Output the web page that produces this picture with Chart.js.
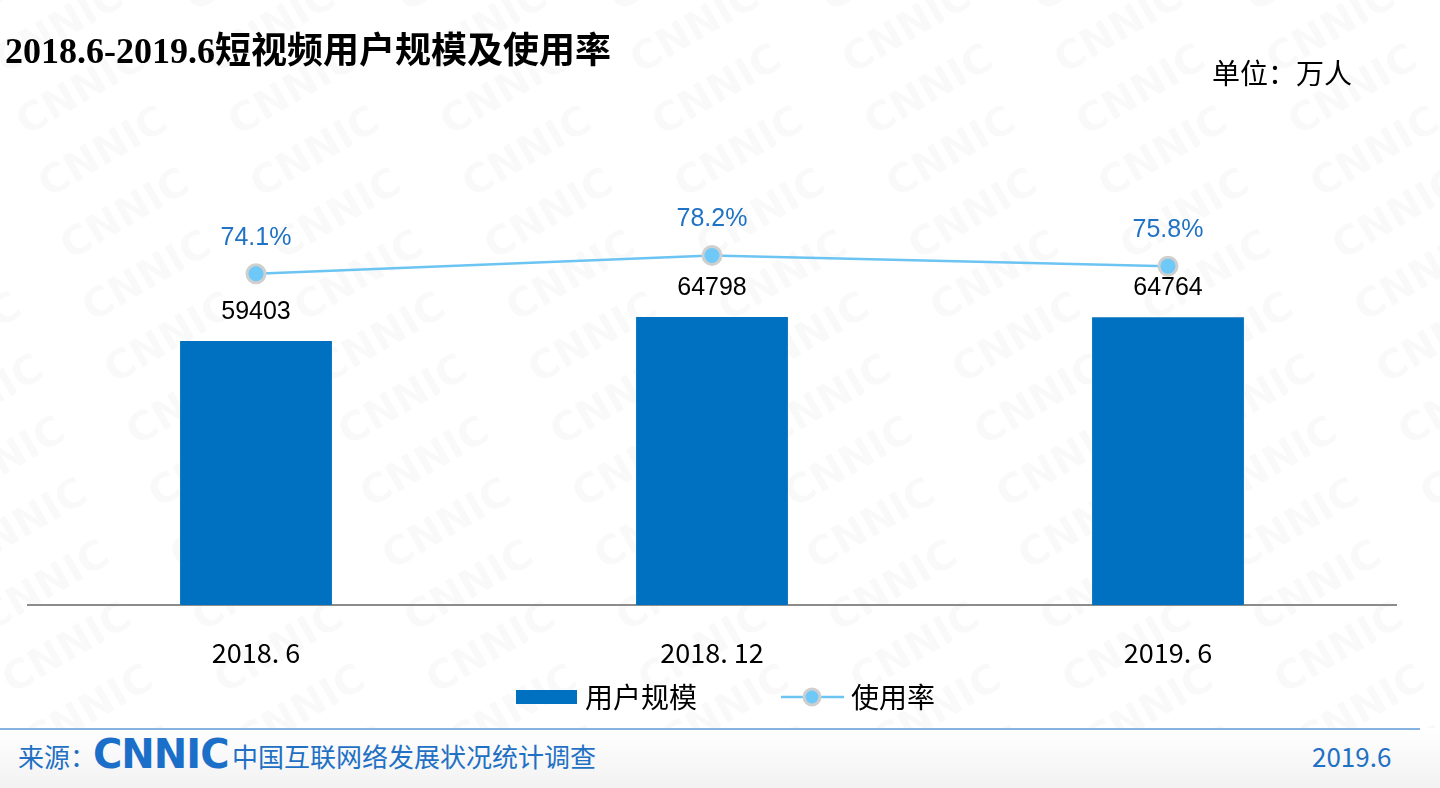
<!DOCTYPE html>
<html>
<head>
<meta charset="utf-8">
<script src="https://cdn.jsdelivr.net/npm/chart.js@4.4.1/dist/chart.umd.min.js"></script>
<style>
  html, body { margin: 0; padding: 0; }
  body { width: 1440px; height: 788px; position: relative; overflow: hidden; background: #fff;
         font-family: "Noto Sans CJK SC", "Liberation Sans", sans-serif; }
  #marks { position: absolute; left: 0; top: 0; }
  #title { position: absolute; left: 5px; top: 21px; font-family: "Liberation Serif", "Noto Sans CJK SC", serif;
           font-weight: bold; font-size: 36px; color: #000; }
  #unit { position: absolute; left: 1212px; top: 52px; font-size: 28px; color: #000; }
  #chartBox { position: absolute; left: 0; top: 0; width: 1440px; height: 728px; }
  #foot { position: absolute; left: 0; top: 728px; width: 1440px; height: 60px;
          background: linear-gradient(#ffffff, #f2f2f2); }
  #footLine { position: absolute; left: 0; top: 728px; width: 1420px; height: 2px; background: #86b2e2; }
  .ft { position: absolute; color: #2170c4; font-size: 26px; top: 737px; }
  #logo { position: absolute; left: 93px; top: 731px; font-family: "DejaVu Sans", sans-serif; font-weight: bold;
          font-size: 40px; color: #1b6fc8; letter-spacing: -1px; }
</style>
</head>
<body>
<canvas id="marks" width="1440" height="788"></canvas>
<div id="foot"></div>
<div id="footLine"></div>
<div id="title">2018.6-2019.6短视频用户规模及使用率</div>
<div id="unit">单位：万人</div>
<div class="ft" style="left:18px">来源：</div>
<div id="logo">CNNIC</div>
<div class="ft" style="left:232px">中国互联网络发展状况统计调查</div>
<div class="ft" style="left:1312px">2019.6</div>
<div id="chartBox"><canvas id="chart" width="1440" height="728"></canvas></div>
<script>
// faint watermark background
const wm = document.getElementById('marks').getContext('2d');
wm.font = 'bold 40px "DejaVu Sans", sans-serif';
wm.fillStyle = 'rgba(0,0,0,0.022)';
wm.textAlign = 'center';
wm.textBaseline = 'middle';
for (let r = -2; r < 14; r++) {
  for (let c = -1; c < 8; c++) {
    wm.save();
    wm.translate(c * 212 + r * 22 + 60, r * 62 + 30);
    wm.rotate(-Math.PI / 6);
    wm.fillText('CNNIC', 0, 0);
    wm.restore();
  }
}

const categories = ['2018. 6', '2018. 12', '2019. 6'];
const users = [59403, 64798, 64764];
const rates = [74.1, 78.2, 75.8];

const barColor = '#0070c0';
const lineColor = '#6cc4f2';

// legend swatches (drawn off-centre so the items land where the original has them)
function barSwatch() {
  const c = document.createElement('canvas');
  c.width = 142; c.height = 14;
  const g = c.getContext('2d');
  g.fillStyle = barColor;
  g.fillRect(81, 0, 61, 14);
  return c;
}
function lineSwatch() {
  const c = document.createElement('canvas');
  c.width = 144; c.height = 22;
  const g = c.getContext('2d');
  g.strokeStyle = lineColor; g.lineWidth = 2.5;
  g.beginPath(); g.moveTo(81, 11); g.lineTo(144, 11); g.stroke();
  g.beginPath(); g.arc(112, 11, 8, 0, Math.PI * 2);
  g.fillStyle = '#6ec8f8'; g.fill();
  g.lineWidth = 3; g.strokeStyle = '#cfcfcf'; g.stroke();
  return c;
}
const swatches = [barSwatch(), lineSwatch()];

const valueLabels = {
  id: 'valueLabels',
  afterDatasetsDraw(chart) {
    const ctx = chart.ctx;
    ctx.save();
    ctx.textAlign = 'center';
    ctx.textBaseline = 'middle';
    ctx.font = '25px "Liberation Sans", Arial, sans-serif';
    chart.getDatasetMeta(0).data.forEach((bar, i) => {
      ctx.fillStyle = '#000';
      ctx.fillText(String(users[i]), bar.x, bar.y - 29);
    });
    chart.getDatasetMeta(1).data.forEach((pt, i) => {
      ctx.fillStyle = '#1f72c4';
      ctx.fillText(rates[i].toFixed(1) + '%', pt.x, pt.y - 36);
    });
    ctx.restore();
  }
};

let legendShift = -24;
const shiftLegend = {
  id: 'shiftLegend',
  afterLayout(chart) {
    chart.legend.left += legendShift;
    chart.legend.right += legendShift;
  }
};

new Chart(document.getElementById('chart'), {
  data: {
    labels: categories,
    datasets: [
      {
        type: 'bar',
        label: '用户规模',
        data: users,
        backgroundColor: barColor,
        yAxisID: 'y',
        categoryPercentage: 1,
        barPercentage: 0.333,
        order: 2
      },
      {
        type: 'line',
        label: '使用率',
        data: rates,
        yAxisID: 'y1',
        borderColor: lineColor,
        borderWidth: 2.5,
        pointRadius: 9,
        pointBackgroundColor: '#6ec8f8',
        pointBorderColor: '#cfcfcf',
        pointBorderWidth: 3,
        tension: 0,
        order: 1
      }
    ]
  },
  options: {
    responsive: false,
    animation: false,
    layout: { padding: { top: 158, left: 28, right: 44, bottom: 7 } },
    scales: {
      x: {
        grid: { display: false },
        border: { display: true, color: '#8c8c8c', width: 2 },
        ticks: { color: '#000', padding: 24, font: { size: 27, family: '"Noto Sans CJK SC", sans-serif' } },
        afterFit(scale) { scale.height = 68; }
      },
      y: { display: false, min: 0, max: 100600 },
      y1: { display: false, min: 0, max: 100 }
    },
    plugins: {
      tooltip: { enabled: false },
      legend: {
        position: 'bottom',
        labels: {
          usePointStyle: true,
          pointStyleWidth: 130,
          padding: 10,
          color: '#000',
          font: { size: 28, family: '"Noto Sans CJK SC", sans-serif' },
          generateLabels(chart) {
            return chart.data.datasets.map((ds, i) => ({
              text: ds.label,
              pointStyle: swatches[i],
              fillStyle: 'transparent',
              strokeStyle: 'transparent',
              lineWidth: 0,
              datasetIndex: i,
              hidden: false
            }));
          }
        }
      }
    }
  },
  plugins: [valueLabels, shiftLegend]
});
</script>
</body>
</html>
